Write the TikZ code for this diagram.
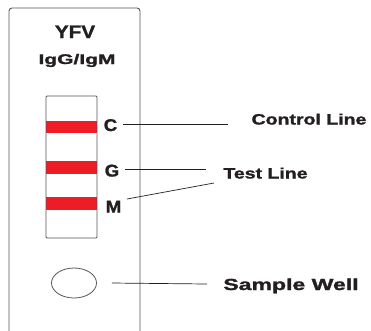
\documentclass[tikz,border=0pt]{standalone}
\usepackage{fontspec}
\setmainfont{Liberation Sans}[BoldFeatures={FakeBold=1.3}]
\usetikzlibrary{shapes.geometric}
\definecolor{edge}{HTML}{555555}
\definecolor{band}{HTML}{EE1C25}
\definecolor{ink}{HTML}{231F20}
\tikzset{
  lab/.style={font=\bfseries, text=ink, inner sep=0pt, anchor=base},
  pointer/.style={draw=ink, line width=0.7pt},
  frame/.style={draw=edge, line width=0.9pt},
}
\begin{document}
\begin{tikzpicture}[x=1pt,y=-1pt]
\useasboundingbox (0,0) rectangle (371,330);
% card
\draw[frame, rounded corners=3pt] (9,331) -- (9,8) -- (140,8) -- (140,331);
\node[lab, font=\bfseries\fontsize{18}{20}\selectfont] (yfv) at (75,38) {\scalebox{1.15}[1]{YFV}};
\node[lab, font=\bfseries\fontsize{14}{16}\selectfont] (ig) at (77,64) {\scalebox{1.5}[1]{IgG/IgM}};
% window
\fill[band] (46,121) rectangle (97,133);
\fill[band] (46,161) rectangle (97,174);
\fill[band] (46,197) rectangle (97,210);
\node[draw=edge, line width=0.8pt, minimum width=51pt, minimum height=142pt, inner sep=0pt, rounded corners=1pt] (window) at (71.5,167) {};
% letters
\node[lab, font=\bfseries\fontsize{17}{19}\selectfont] (labC) at (110.5,131) {\scalebox{1.1}[1]{C}};
\node[lab, font=\bfseries\fontsize{17}{19}\selectfont] (labG) at (112,176.5) {\scalebox{1.1}[1]{G}};
\node[lab, font=\bfseries\fontsize{17}{19}\selectfont] (labM) at (113.5,212.5) {\scalebox{1.1}[1]{M}};
% labels
\node[lab, font=\bfseries\fontsize{15}{17}\selectfont] (ctrl) at (309,124.5) {\scalebox{1.3}[1]{Control Line}};
\node[lab, font=\bfseries\fontsize{15}{17}\selectfont] (test) at (265.5,178.5) {\scalebox{1.3}[1]{Test Line}};
\node[lab, font=\bfseries\fontsize{16}{18}\selectfont] (wellText) at (291,290) {\scalebox{1.44}[1]{Sample Well}};
% sample well
\node[draw=edge, line width=0.8pt, ellipse, minimum width=45pt, minimum height=30pt, inner sep=0pt] (well) at (74,283) {};
% pointers
\coordinate (cEnd) at (228,124);
\coordinate (gEnd) at (206,169);
\coordinate (mStart) at (127,199);
\coordinate (mEnd) at (214,183);
\coordinate (wEnd) at (207,284);
\draw[pointer] (labC.east |- cEnd) ++(6,0) -- (cEnd);
\draw[pointer] (labG.east |- gEnd) ++(6,0) -- (gEnd);
\draw[pointer] (mStart) -- (mEnd);
\draw[pointer] ([xshift=15pt]well.east) -- (wEnd);
\end{tikzpicture}
\end{document}
